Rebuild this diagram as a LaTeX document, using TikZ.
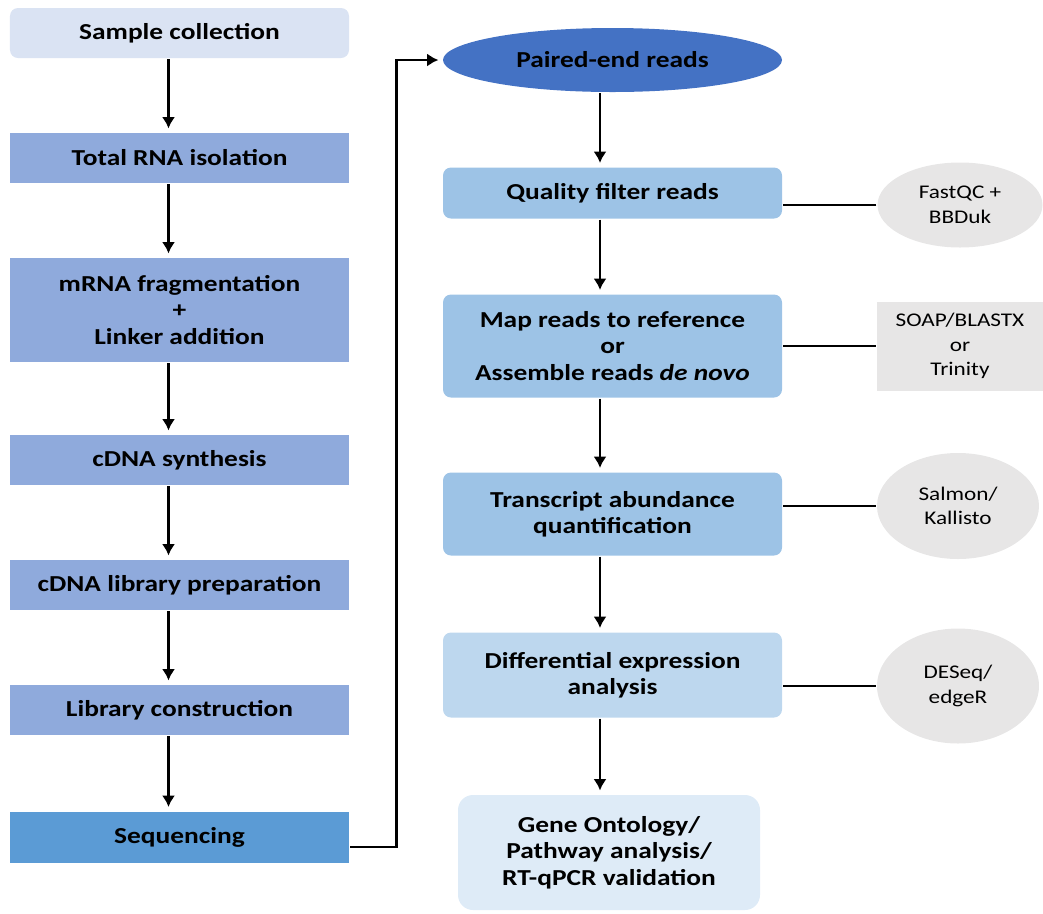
\documentclass[tikz,border=0pt]{standalone}
\usepackage{fontspec}
\setmainfont{Carlito}[FakeStretch=1.2]
\usetikzlibrary{shapes.geometric,arrows.meta}
\definecolor{palebox}{HTML}{DAE3F3}
\definecolor{midbox}{HTML}{8FAADC}
\definecolor{seqbox}{HTML}{5B9BD5}
\definecolor{readsfill}{HTML}{4472C4}
\definecolor{stepfill}{HTML}{9DC3E6}
\definecolor{difffill}{HTML}{BDD7EE}
\definecolor{endfill}{HTML}{DEEBF7}
\definecolor{toolfill}{HTML}{E7E6E6}
\begin{document}
\begin{tikzpicture}[->,>={Latex[length=6.5pt,width=7.5pt]},line width=1.2pt,shorten >=2pt,
    leftbox/.style={rectangle, fill=midbox, minimum width=6.78cm, minimum height=1cm, align=center, font=\fontsize{13}{15}\selectfont\bfseries, inner sep=0pt},
    rightbox/.style={rectangle, rounded corners=0.16cm, fill=stepfill, minimum width=6.78cm, align=center, font=\fontsize{13}{15}\selectfont\bfseries, inner sep=0pt},
    tool/.style={ellipse, fill=toolfill, minimum width=3.3cm, align=center, font=\fontsize{11}{14}\selectfont, inner sep=0pt}]
    \useasboundingbox (0,0) rectangle (20.86,-18.26);
    % Nodes
    \node[leftbox, fill=palebox, rounded corners=0.16cm] (sc) at (3.59, -0.66) {Sample collection};
    \node[leftbox] (tr) at (3.59, -3.16) {Total RNA isolation};
    \node[leftbox, minimum height=2.08cm] (mf) at (3.59, -6.2) {mRNA fragmentation\\+\\Linker addition};
    \node[leftbox] (cs) at (3.59, -9.2) {cDNA synthesis};
    \node[leftbox] (cl) at (3.59, -11.7) {cDNA library preparation};
    \node[leftbox] (lc) at (3.59, -14.2) {Library construction};
    \node[leftbox, fill=seqbox, minimum height=1.02cm] (sq) at (3.59, -16.74) {Sequencing};

    \node[rightbox, ellipse, fill=readsfill, minimum height=1.28cm] (pe) at (12.25, -1.2) {Paired-end reads};
    \node[rightbox, minimum height=1.02cm] (qf) at (12.25, -3.86) {Quality filter reads};
    \node[rightbox, minimum height=2.06cm] (mr) at (12.25, -6.92) {Map reads to reference\\or\\Assemble reads \textit{de novo}};
    \node[rightbox, minimum height=1.66cm] (ta) at (12.25, -10.28) {Transcript abundance\\quantification};
    \node[rightbox, fill=difffill, minimum height=1.7cm] (de) at (12.25, -13.5) {Differential expression\\analysis};
    \node[rightbox, fill=endfill, rounded corners=0.3cm, minimum width=6.04cm, minimum height=2.3cm] (go) at (12.18, -17.05) {Gene Ontology/\\Pathway analysis/\\RT-qPCR validation};

    \node[tool, minimum height=1.7cm] (fq) at (19.2, -4.1) {FastQC +\\BBDuk};
    \node[tool, rectangle, minimum width=3.32cm, minimum height=1.78cm] (sb) at (19.2, -6.92) {SOAP/BLASTX\\or\\Trinity};
    \node[tool, minimum width=3.24cm, minimum height=2.12cm] (sk) at (19.16, -10.12) {Salmon/\\Kallisto};
    \node[tool, minimum width=3.24cm, minimum height=2.3cm] (dq) at (19.16, -13.72) {DESeq/\\edgeR};
    \coordinate (turn) at (7.93, -1.2);
    % Edges
    \draw ([xshift=-0.22cm]sc.south) -- ([xshift=-0.22cm]tr.north);
    \draw ([xshift=-0.22cm]tr.south) -- ([xshift=-0.22cm]mf.north);
    \draw ([xshift=-0.22cm]mf.south) -- ([xshift=-0.22cm]cs.north);
    \draw ([xshift=-0.22cm]cs.south) -- ([xshift=-0.22cm]cl.north);
    \draw ([xshift=-0.22cm]cl.south) -- ([xshift=-0.22cm]lc.north);
    \draw ([xshift=-0.22cm]lc.south) -- ([xshift=-0.22cm]sq.north);

    \draw ([yshift=-0.2cm]sq.east) -| (turn) -- (pe.west);

    \draw ([xshift=-0.25cm]pe.south) -- ([xshift=-0.25cm]qf.north);
    \draw ([xshift=-0.25cm]qf.south) -- ([xshift=-0.25cm]mr.north);
    \draw ([xshift=-0.25cm]mr.south) -- ([xshift=-0.25cm]ta.north);
    \draw ([xshift=-0.25cm]ta.south) -- ([xshift=-0.25cm]de.north);
    \draw ([xshift=-0.25cm]de.south) -- ([xshift=-0.18cm]go.north);

    \draw[-, shorten >=0pt] (fq.west) -- (fq.west -| qf.east);
    \draw[-, shorten >=0pt] (sb.west) -- (sb.west -| mr.east);
    \draw[-, shorten >=0pt] (sk.west) -- (sk.west -| ta.east);
    \draw[-, shorten >=0pt] (dq.west) -- (dq.west -| de.east);
\end{tikzpicture}
\end{document}
